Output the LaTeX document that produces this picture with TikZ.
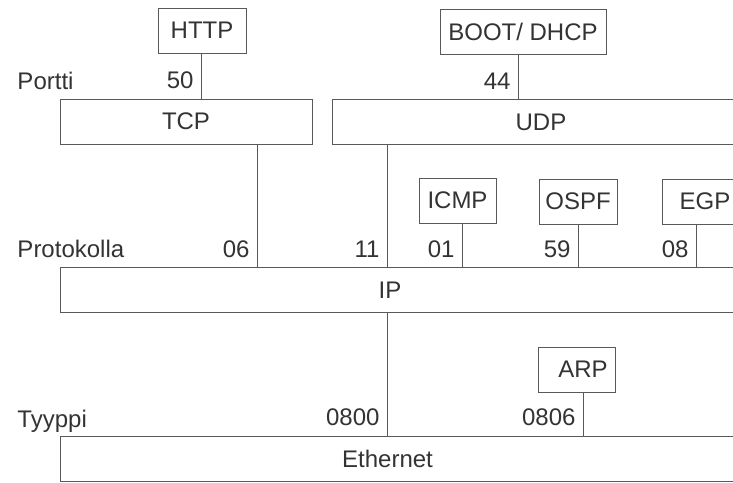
\documentclass[tikz,border=0pt]{standalone}
\usepackage{fontspec}
\setmainfont{Liberation Sans}
\begin{document}
\begin{tikzpicture}[
    x=0.5pt, y=-0.5pt,
    line width=0.5pt,
    every node/.style={font=\fontsize{12pt}{14pt}\selectfont, text=black!80},
    box/.style={draw=black!65, inner sep=0pt, minimum height=22.5pt},
    num/.style={anchor=base east, inner sep=0pt, xshift=-3.5pt, yshift=5pt},
    rowlabel/.style={anchor=base west, inner sep=0pt}
    ]
    \useasboundingbox (0,0) rectangle (733,482);
    \clip (0,0) rectangle (733,482);

    % protocols
    \node[box,minimum width=44pt] (http) at (202,30.5) {HTTP};
    \node[box,minimum width=83pt] (boot) at (523,32) {BOOT/ DHCP};
    \node[box,minimum width=126pt] (tcp) at (186,121.5) {TCP};
    \node[box,minimum width=209pt] (udp) at (541,122) {UDP};
    \node[box,minimum width=38.5pt] (icmp) at (457.5,200.5) {ICMP};
    \node[box,minimum width=39pt] (ospf) at (578,201.5) {OSPF};
    \node[box,minimum width=43pt] (egp) at (705,201.5) {EGP};
    \node[box,minimum width=350pt] (ip) at (410,290) {};
    \node (iptext) at (390,290) {IP};
    \node[box,minimum width=38.5pt] (arp) at (576.5,369.5) {\hspace*{6.5pt}ARP};
    \node[box,minimum width=350pt] (eth) at (410,458.5) {};
    \node (ethtext) at (387.5,458.5) {Ethernet};

    % field names
    \node[rowlabel] (portti) at (17,89) {Portti};
    \node[rowlabel] (proto) at (17,257) {Protokolla};
    \node[rowlabel] (tyyppi) at (17,427) {Tyyppi};

    % connection points
    \coordinate (p50) at (201,0);
    \coordinate (p44) at (518,0);
    \coordinate (p06) at (257,0);
    \coordinate (p11) at (387,0);
    \coordinate (p01) at (462,0);
    \coordinate (p59) at (578,0);
    \coordinate (p08) at (696,0);
    \coordinate (p0800) at (387,0);
    \coordinate (p0806) at (583,0);

    \draw[black!65] (http.south -| p50) -- (tcp.north -| p50) node[num] {50}
    (boot.south -| p44) -- (udp.north -| p44) node[num] {44}
    (tcp.south -| p06) -- (ip.north -| p06) node[num] {06}
    (udp.south -| p11) -- (ip.north -| p11) node[num] {11}
    (icmp.south -| p01) -- (ip.north -| p01) node[num] {01}
    (ospf.south -| p59) -- (ip.north -| p59) node[num] {59}
    (egp.south -| p08) -- (ip.north -| p08) node[num] {08}
    (ip.south -| p0800) -- (eth.north -| p0800) node[num] {0800}
    (arp.south -| p0806) -- (eth.north -| p0806) node[num] {0806}
    ;

\end{tikzpicture}
\end{document}
